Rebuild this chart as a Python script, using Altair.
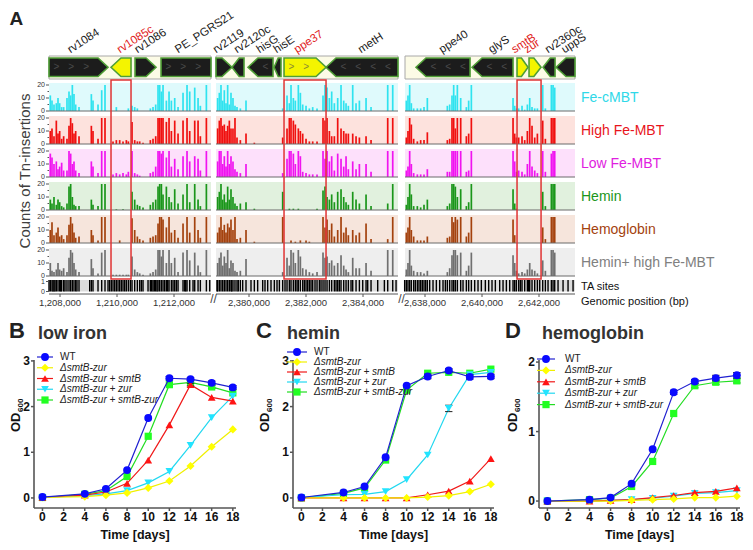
import altair as alt
import pandas as pd

FONT = "Liberation Sans"

# ======================= Panel A data =======================
TRACKS = ["Fe-cMBT", "High Fe-MBT", "Low Fe-MBT", "Hemin", "Hemoglobin", "Hemin+ high Fe-MBT"]
SEG_START = [1207614, 2378842, 2637298]
SEG_END = [1213298, 2385228, 2643263]
X_TICKS = [1208000, 1210000, 1212000, 2380000, 2382000, 2384000, 2638000, 2640000, 2642000]

# insertion sites (bp) and counts per site: [Fe-cMBT, High Fe-MBT, Low Fe-MBT, Hemin, Hemoglobin, Hemin+high]
SITES_1 = [1207660, 1207719, 1207789, 1207871, 1207930, 1207988, 1208058, 1208128, 1208245, 1208316,
           1208374, 1208433, 1208491, 1208550, 1208667, 1209100, 1209158, 1209334, 1209463, 1209579,
           1209860, 1209977, 1210094, 1210211, 1210328, 1210398, 1210527, 1210621, 1210714, 1210796,
           1210913, 1211170, 1211264, 1211358, 1211440, 1211498, 1211557, 1211615, 1211732, 1211826,
           1211908, 1212025, 1212142, 1212317, 1212457, 1212551, 1212727, 1212844, 1212925, 1213136]
COUNTS_1 = [[12, 10, 18, 8, 10, 10], [8, 12, 15, 5, 16, 4], [5, 6, 10, 10, 6, 3], [6, 18, 12, 4, 8, 5],
            [10, 8, 6, 8, 12, 10], [6, 10, 8, 6, 5, 5], [3, 4, 11, 3, 6, 4], [3, 6, 5, 2, 3, 6],
            [10, 4, 5, 5, 6, 3], [15, 14, 20, 18, 14, 14], [12, 20, 18, 20, 20, 20], [20, 16, 10, 10, 15, 18],
            [13, 8, 12, 4, 8, 10], [5, 10, 5, 3, 4, 5], [3, 6, 3, 3, 5, 3], [13, 14, 12, 8, 10, 13],
            [8, 10, 8, 4, 6, 6], [5, 4, 3, 3, 2, 2], [16, 20, 20, 20, 20, 18], [20, 20, 20, 20, 20, 20],
            [0, 2, 2, 0, 0, 1], [3, 3, 3, 0.5, 0, 1], [0, 3, 2, 0, 2, 1], [0, 2, 3, 0.5, 0, 1],
            [0, 3, 2, 0, 0, 1], [2, 2, 4, 0, 0, 1], [4, 17, 20, 14, 19, 15], [3, 3, 3, 8, 10, 5],
            [2, 2, 2, 4, 5, 3], [0, 2, 1, 3, 3, 2], [0, 1, 0, 2, 2, 1], [2, 3, 3, 4, 4, 2],
            [3, 4, 4, 6, 5, 3], [5, 6, 8, 8, 6, 5], [20, 20, 20, 18, 15, 20], [20, 20, 20, 20, 20, 20],
            [15, 20, 18, 20, 20, 15], [20, 20, 20, 12, 18, 20], [8, 17, 15, 18, 12, 10], [15, 20, 20, 10, 20, 20],
            [8, 10, 8, 6, 8, 10], [10, 18, 14, 16, 10, 14], [3, 8, 6, 5, 4, 3], [14, 18, 16, 12, 15, 18],
            [20, 20, 20, 20, 20, 20], [15, 10, 12, 6, 8, 12], [18, 18, 16, 20, 20, 18], [10, 18, 14, 8, 10, 8],
            [4, 6, 5, 3, 4, 3], [20, 20, 20, 20, 20, 20]]

SITES_2 = [2378900, 2378959, 2379017, 2379076, 2379134, 2379193, 2379251, 2379310, 2379368, 2379438,
           2379508, 2379579, 2379696, 2379895, 2380187, 2381182, 2381334, 2381416, 2381474, 2381556,
           2381626, 2381731, 2381802, 2381884, 2382001, 2382118, 2382235, 2382387, 2382597, 2382667,
           2382738, 2382820, 2382901, 2382995, 2383112, 2383229, 2383323, 2383405, 2383486, 2383639,
           2383756, 2383873, 2384107, 2384282, 2384867, 2385043]
COUNTS_2 = [[10, 12, 12, 10, 8, 10], [14, 18, 20, 14, 12, 14], [20, 20, 20, 20, 20, 18], [8, 14, 10, 8, 10, 8],
            [16, 15, 16, 12, 14, 15], [6, 10, 8, 6, 8, 10], [20, 14, 20, 18, 15, 20], [5, 18, 10, 8, 12, 6],
            [14, 12, 16, 16, 18, 12], [10, 12, 12, 10, 10, 10], [4, 20, 6, 5, 20, 4], [3, 5, 4, 3, 3, 3],
            [2, 3, 3, 5, 4, 4], [8, 8, 10, 6, 10, 13], [0, 1, 0, 1, 1, 0], [2, 5, 3, 14, 20, 3],
            [12, 12, 14, 0, 0, 14], [6, 20, 20, 1, 0, 8], [20, 20, 20, 0, 2, 20], [10, 18, 18, 1, 0, 18],
            [8, 15, 10, 0, 1, 10], [20, 12, 20, 1, 0, 20], [14, 10, 16, 0, 2, 15], [5, 8, 4, 0, 0, 6],
            [4, 4, 3, 0, 2, 5], [2, 2, 2, 0, 1, 3], [3, 2, 2, 0, 0, 2], [2, 2, 2, 1, 0, 3],
            [12, 20, 20, 15, 20, 18], [20, 18, 14, 18, 12, 14], [18, 20, 20, 10, 18, 15], [10, 10, 12, 8, 10, 10],
            [15, 6, 16, 12, 15, 12], [6, 6, 5, 6, 5, 8], [10, 20, 18, 14, 10, 10], [20, 12, 14, 16, 20, 16],
            [8, 10, 8, 10, 8, 8], [6, 8, 16, 6, 12, 5], [4, 8, 6, 4, 6, 3], [20, 8, 12, 14, 10, 14],
            [6, 6, 6, 8, 6, 6], [8, 5, 10, 5, 8, 6], [10, 6, 10, 12, 15, 10], [3, 3, 4, 3, 3, 4],
            [20, 20, 20, 5, 3, 20], [20, 20, 20, 20, 20, 20]]

SITES_3 = [2637345, 2637403, 2637462, 2637520, 2637602, 2637731, 2637848, 2637965, 2638082, 2638784,
           2638866, 2638947, 2639006, 2639064, 2639135, 2639252, 2639451, 2639532, 2639626, 2641089,
           2641147, 2641206, 2641287, 2641404, 2641498, 2641592, 2641674, 2641755, 2641849, 2641943,
           2642130, 2642223, 2642434, 2642493, 2642551]
COUNTS_3 = [[8, 5, 5, 4, 8, 5], [12, 10, 8, 10, 12, 10], [20, 20, 20, 20, 20, 20], [6, 15, 10, 12, 10, 8],
            [2, 4, 3, 3, 5, 4], [2, 2, 2, 3, 2, 3], [2, 3, 2, 2, 2, 3], [3, 3, 2, 4, 2, 2],
            [10, 9, 6, 8, 5, 4], [4, 3, 4, 3, 4, 3], [5, 4, 4, 5, 5, 6], [12, 20, 20, 20, 20, 16],
            [20, 20, 20, 20, 16, 20], [12, 12, 20, 18, 20, 20], [20, 20, 20, 10, 18, 16], [10, 20, 20, 16, 20, 18],
            [3, 6, 4, 3, 5, 4], [8, 8, 5, 6, 8, 8], [20, 20, 20, 20, 20, 18], [10, 20, 20, 16, 18, 16],
            [4, 8, 12, 5, 6, 10], [2, 5, 4, 1, 0, 4], [2, 5, 5, 0, 0, 2], [4, 6, 4, 0, 0, 3],
            [1, 3, 2, 0, 0, 2], [5, 10, 10, 0, 0, 5], [10, 20, 20, 0, 0, 10], [3, 14, 8, 0, 0, 5],
            [2, 5, 5, 0, 0, 4], [2, 8, 3, 0, 0, 2], [20, 18, 20, 14, 12, 12], [2, 4, 4, 3, 3, 4],
            [20, 20, 18, 20, 20, 20], [20, 20, 20, 20, 20, 20], [18, 20, 20, 20, 20, 18]]

# TA sites without listed insertions (bp)
TA_EXTRA_1 = [1207614, 1207754, 1207824, 1208023, 1208175, 1208596, 1209041, 1209685, 1209743, 1209802,
              1209919, 1210036, 1210153, 1210270, 1210468, 1210855, 1211089, 1211217, 1211311, 1211404,
              1211673, 1211779, 1211966, 1212083, 1212376, 1212411, 1212668, 1213253]
TA_EXTRA_2 = [2378877, 2379391, 2379625, 2379778, 2380070, 2380304, 2380480, 2380561, 2380655, 2380772,
              2380889, 2380983, 2381065, 2381263, 2381685, 2381942, 2382059, 2382176, 2382316, 2382469,
              2382527, 2383054, 2383170, 2383580, 2383990, 2384165, 2384516, 2384750, 2385160]
TA_EXTRA_3 = [2637286, 2637660, 2637789, 2637906, 2638023, 2638164, 2638281, 2638398, 2638515, 2638632,
              2638714, 2639334, 2639743, 2639860, 2639977, 2640117, 2640234, 2640351, 2640468, 2640620,
              2640738, 2640855, 2640972, 2641346, 2641638, 2642025, 2642317, 2642668, 2642844, 2643019, 2643195]

GENE_NAMES = ["rv1084", "rv1085c", "rv1086", "PE_PGRS21",
              "rv2119", "rv2120c", "hisG", "hisE", "ppe37", "metH",
              "ppe40", "glyS", "smtB", "zur", "rv2360c", "uppS"]
GENE_START = [1207300, 1209790, 1210633, 1211545,
              2378800, 2379403, 2379965, 2380878, 2381229, 2382703,
              2637684, 2639650, 2641229, 2641650, 2642142, 2642598]
GENE_END = [1209685, 1210492, 1211370, 1214000,
            2379403, 2379825, 2380842, 2381123, 2382703, 2385800,
            2639580, 2641089, 2641615, 2642072, 2642563, 2643600]
GENE_STRAND = [1, -1, 1, 1, 1, -1, -1, -1, 1, -1, -1, -1, 1, 1, -1, -1]
HIGHLIGHT = [["rv1085c"], ["ppe37"], ["smtB", "zur"]]

# ======================= Panels B-D data =======================
DAYS = [0, 4, 6, 8, 10, 12, 14, 16, 18]
DAY_TICKS = [0, 2, 4, 6, 8, 10, 12, 14, 16, 18]
STRAINS = ["WT", "ΔsmtB-zur", "ΔsmtB-zur + smtB", "ΔsmtB-zur + zur", "ΔsmtB-zur + smtB-zur"]
LOW_IRON = [[0.02, 0.09, 0.20, 0.61, 1.75, 2.62, 2.60, 2.52, 2.42],
            [0.01, 0.03, 0.06, 0.11, 0.22, 0.37, 0.70, 1.12, 1.50],
            [0.01, 0.06, 0.13, 0.32, 0.83, 1.60, 2.48, 2.20, 2.12],
            [0.01, 0.05, 0.09, 0.16, 0.33, 0.58, 1.15, 1.76, 2.23],
            [0.01, 0.08, 0.16, 0.47, 1.35, 2.48, 2.53, 2.43, 2.30]]
LOW_IRON_ERR = [[0, 0, 0, 0, 0, 0.04, 0.03, 0.04, 0.04],
                [0, 0, 0, 0, 0, 0, 0, 0, 0],
                [0, 0, 0, 0, 0, 0, 0.03, 0, 0],
                [0, 0, 0, 0, 0, 0, 0, 0, 0],
                [0, 0, 0, 0, 0, 0, 0, 0.03, 0]]
HEMIN = [[0.01, 0.12, 0.25, 0.89, 2.46, 2.66, 2.79, 2.65, 2.66],
         [0.0, 0.0, 0.0, 0.0, 0.0, 0.02, 0.05, 0.14, 0.30],
         [0.0, 0.0, 0.0, 0.0, 0.0, 0.07, 0.15, 0.37, 0.86],
         [0.01, 0.07, 0.08, 0.14, 0.40, 0.94, 1.96, 2.70, 2.75],
         [0.0, 0.10, 0.22, 0.83, 2.36, 2.73, 2.75, 2.73, 2.82]]
HEMIN_ERR = [[0, 0, 0, 0, 0, 0.05, 0.04, 0.05, 0.05],
             [0, 0, 0, 0, 0, 0, 0, 0, 0],
             [0, 0, 0, 0, 0, 0, 0, 0, 0],
             [0, 0, 0, 0, 0, 0, 0.07, 0, 0],
             [0, 0, 0, 0, 0, 0, 0, 0, 0]]
HEMOGLOBIN = [[0.0, 0.02, 0.05, 0.25, 0.745, 1.565, 1.72, 1.77, 1.81],
              [0.0, 0.0, 0.0, 0.01, 0.02, 0.03, 0.05, 0.05, 0.07],
              [0.0, 0.0, 0.01, 0.02, 0.05, 0.08, 0.12, 0.14, 0.19],
              [0.0, 0.0, 0.01, 0.02, 0.04, 0.07, 0.11, 0.12, 0.15],
              [0.0, 0.02, 0.04, 0.21, 0.57, 1.26, 1.66, 1.71, 1.73]]
HEMOGLOBIN_ERR = [[0, 0, 0, 0, 0, 0.03, 0.03, 0.04, 0.04],
                  [0, 0, 0, 0, 0, 0, 0, 0, 0],
                  [0, 0, 0, 0, 0, 0, 0, 0, 0],
                  [0, 0, 0, 0, 0, 0, 0, 0, 0],
                  [0, 0, 0, 0, 0, 0, 0.03, 0.03, 0.03]]

# ======================= styles / layout =======================
W, H = 737, 534
TRACK_COLORS = ["#2fe3ef", "#f01010", "#f014f0", "#1a961a", "#a4420e", "#707070"]
TRACK_BG = ["#dffafc", "#fde2dd", "#fde0fb", "#e1f1de", "#f6e5dc", "#eeeeee"]
TRACK_LABEL_COLORS = ["#2fd8e8", "#e8141b", "#e020e0", "#1a961a", "#a4420e", "#808080"]
LINE_COLORS = ["#2020d0", "#f0f000", "#f01818", "#22d8f0", "#22dd22"]
POINT_COLORS = ["#0a0aff", "#ffff00", "#ff1414", "#22e4ff", "#22ff22"]
SHAPES = ["circle", "diamond", "triangle-up", "triangle-down", "square"]
SIZES = [62, 66, 60, 60, 52]

K = 35.088          # bp per pixel
SEG_PX = [41, 208, 397]
UNIT = 1.3          # px per insertion count
BASE_PX = [103 + 33 * i for i in range(6)]

XS = alt.Scale(domain=[0, W * K], nice=False, zero=False)
YS = alt.Scale(domain=[0, H / UNIT], nice=False, zero=False, reverse=True)


def xv(seg, pos):
    return SEG_PX[seg] * K + (pos - SEG_START[seg])


def ux(px):
    return px * K


def uy(px):
    return px / UNIT


def seg_of(pos):
    return 0 if pos < 2.0e6 else (1 if pos < 2.5e6 else 2)


def X(f="x"):
    return alt.X(f"{f}:Q", scale=XS, axis=None)


def Y(f="y"):
    return alt.Y(f"{f}:Q", scale=YS, axis=None)


A_layers = []

# track backgrounds and baselines
bg_rows, base_rows = [], []
for i in range(6):
    for s in range(3):
        bg_rows.append(dict(x=xv(s, SEG_START[s]), x2=xv(s, SEG_END[s]), y=uy(BASE_PX[i] - 28),
                            y2=uy(BASE_PX[i]), c=TRACK_BG[i]))
        base_rows.append(dict(x=xv(s, SEG_START[s]), x2=xv(s, SEG_END[s]), y=uy(BASE_PX[i])))
A_layers.append(alt.Chart(pd.DataFrame(bg_rows)).mark_rect().encode(
    x=X(), x2="x2:Q", y=Y(), y2="y2:Q", color=alt.Color("c:N", scale=None)))

# insertion bars
bar_rows = []
for s, (sites, counts) in enumerate([(SITES_1, COUNTS_1), (SITES_2, COUNTS_2), (SITES_3, COUNTS_3)]):
    for pos, row in zip(sites, counts):
        for i, c in enumerate(row):
            if c > 0:
                bar_rows.append(dict(x=xv(s, pos), y=uy(BASE_PX[i]) - min(c, 21.5),
                                     y2=uy(BASE_PX[i]), c=TRACK_COLORS[i]))
A_layers.append(alt.Chart(pd.DataFrame(bar_rows)).mark_rule(strokeWidth=1.7).encode(
    x=X(), y=Y(), y2="y2:Q", color=alt.Color("c:N", scale=None)))
A_layers.append(alt.Chart(pd.DataFrame(base_rows)).mark_rule(color="#6b6b6b", strokeWidth=1).encode(
    x=X(), x2="x2:Q", y=Y()))

# TA sites
TA_TOP, TA_BOT = 272, 283.5
ta_bg = [dict(x=xv(s, SEG_START[s]), x2=xv(s, SEG_END[s]), y=uy(TA_TOP), y2=uy(TA_BOT)) for s in range(3)]
A_layers.append(alt.Chart(pd.DataFrame(ta_bg)).mark_rect(color="#dcdcdc").encode(
    x=X(), x2="x2:Q", y=Y(), y2="y2:Q"))
ta_rows = []
for s, lst in enumerate([SITES_1 + TA_EXTRA_1, SITES_2 + TA_EXTRA_2, SITES_3 + TA_EXTRA_3]):
    for pos in lst:
        ta_rows.append(dict(x=xv(s, pos), y=uy(TA_TOP), y2=uy(TA_BOT)))
A_layers.append(alt.Chart(pd.DataFrame(ta_rows)).mark_rule(color="#000000", strokeWidth=1.4).encode(
    x=X(), y=Y(), y2="y2:Q"))

# gene map background
gbg = [dict(x=xv(s, SEG_START[s]), x2=xv(s, SEG_END[s]), y=uy(48), y2=uy(71)) for s in range(3)]
A_layers.append(alt.Chart(pd.DataFrame(gbg)).mark_rect(fill="#fcfbe6", stroke="#a8a8a8", strokeWidth=1).encode(
    x=X(), x2="x2:Q", y=Y(), y2="y2:Q"))

# gene arrows
TOP, BOT, MID = uy(50), uy(68.5), uy(59.25)
poly, chev, glab = [], [], []
for name, st, en, strand in zip(GENE_NAMES, GENE_START, GENE_END, GENE_STRAND):
    s = seg_of(st)
    a, b = max(st, SEG_START[s]), min(en, SEG_END[s])
    head = min(350, 0.6 * (en - st))
    yellow = any(name in grp for grp in HIGHLIGHT)
    fill = "#f4f400" if yellow else "#1c1c1c"
    if strand > 0:
        if en <= SEG_END[s]:
            pts = [(a, TOP, BOT), (b - head, TOP, BOT), (b, MID, MID)]
            body = (a, b - head)
        else:
            pts = [(a, TOP, BOT), (b, TOP, BOT)]
            body = (a, b)
    else:
        if st >= SEG_START[s]:
            pts = [(a, MID, MID), (a + head, TOP, BOT), (b, TOP, BOT)]
            body = (a + head, b)
        else:
            pts = [(a, TOP, BOT), (b, TOP, BOT)]
            body = (a, b)
    for (p, y1, y2) in pts:
        poly.append(dict(name=name, x=xv(s, p), y=y1, y2=y2, c=fill))
    p = body[0] + 260
    while p < body[1] - 150:
        chev.append(dict(x=xv(s, p), y=MID, t=">" if strand > 0 else "<",
                         c="#8a8a30" if yellow else "#4a4a4a"))
        p += 520
    glab.append(dict(x=xv(s, (a + b) / 2) - ux(8 if strand > 0 else 1), y=uy(45.5), t=name,
                     c="#e0201a" if yellow else "#1a1a1a"))
A_layers.append(alt.Chart(pd.DataFrame(poly)).mark_area(
    stroke="#4f9e36", strokeWidth=1.6, interpolate="linear", opacity=1).encode(
    x=X(), y=Y(), y2="y2:Q", color=alt.Color("c:N", scale=None), detail="name:N"))
A_layers.append(alt.Chart(pd.DataFrame(chev)).mark_text(
    font=FONT, fontSize=10, baseline="middle", align="center").encode(
    x=X(), y=Y(), text="t:N", color=alt.Color("c:N", scale=None)))
A_layers.append(alt.Chart(pd.DataFrame(glab)).mark_text(
    font=FONT, fontSize=11.5, angle=327, align="left", baseline="alphabetic").encode(
    x=X(), y=Y(), text="t:N", color=alt.Color("c:N", scale=None)))

# red boxes
box_rows = []
for grp in HIGHLIGHT:
    idx = [GENE_NAMES.index(g) for g in grp]
    st = min(GENE_START[j] for j in idx)
    en = max(GENE_END[j] for j in idx)
    s = seg_of(st)
    box_rows.append(dict(x=xv(s, st), x2=xv(s, en), y=uy(72), y2=uy(271)))
A_layers.append(alt.Chart(pd.DataFrame(box_rows)).mark_rect(
    fillOpacity=0, stroke="#e03434", strokeWidth=1.5).encode(x=X(), x2="x2:Q", y=Y(), y2="y2:Q"))

# count axis labels/ticks (left of first segment)
ytl, ytk = [], []
for i in range(6):
    for v in [0, 10, 20]:
        ytl.append(dict(x=ux(37), y=uy(BASE_PX[i]) - v, t=str(v)))
        ytk.append(dict(x=ux(38), x2=ux(41), y=uy(BASE_PX[i]) - v))
    for v in [5, 15]:
        ytk.append(dict(x=ux(39.5), x2=ux(41), y=uy(BASE_PX[i]) - v))
ytl += [dict(x=ux(37), y=uy(TA_TOP + 1.5), t="1"), dict(x=ux(37), y=uy(TA_BOT), t="0")]
ytk += [dict(x=ux(38), x2=ux(41), y=uy(TA_TOP + 1.5)), dict(x=ux(38), x2=ux(41), y=uy(TA_BOT))]
A_layers.append(alt.Chart(pd.DataFrame(ytk)).mark_rule(color="#555555", strokeWidth=1).encode(
    x=X(), x2="x2:Q", y=Y()))
A_layers.append(alt.Chart(pd.DataFrame(ytl)).mark_text(
    font=FONT, fontSize=7, align="right", baseline="middle", color="#333333").encode(
    x=X(), y=Y(), text="t:N"))

# genomic position axis
AXY = 286
ax_rows = [dict(x=xv(s, SEG_START[s]), x2=xv(s, SEG_END[s]), y=uy(AXY)) for s in range(3)]
A_layers.append(alt.Chart(pd.DataFrame(ax_rows)).mark_rule(color="#555555", strokeWidth=1).encode(
    x=X(), x2="x2:Q", y=Y()))
xt_rows = [dict(x=xv(seg_of(t), t), y=uy(AXY), y2=uy(AXY + 3), t=f"{t:,}") for t in X_TICKS]
A_layers.append(alt.Chart(pd.DataFrame(xt_rows)).mark_rule(color="#555555", strokeWidth=1).encode(
    x=X(), y=Y(), y2="y2:Q"))
A_layers.append(alt.Chart(pd.DataFrame(xt_rows)).mark_text(
    font=FONT, fontSize=9.5, align="center", baseline="top", color="#333333", dy=4).encode(
    x=X(), y=Y(), text="t:N"))
brk = []
for s in range(2):
    end_px = SEG_PX[s] + (SEG_END[s] - SEG_START[s]) / K
    brk.append(dict(x=ux((end_px + SEG_PX[s + 1]) / 2), y=uy(AXY + 5), t="//"))
A_layers.append(alt.Chart(pd.DataFrame(brk)).mark_text(
    font=FONT, fontSize=12, align="center", baseline="middle", color="#444444").encode(
    x=X(), y=Y(), text="t:N"))

# right-side labels
rl = [dict(x=ux(573), y=uy(BASE_PX[i] - 13), t=TRACKS[i], c=TRACK_LABEL_COLORS[i]) for i in range(6)]
A_layers.append(alt.Chart(pd.DataFrame(rl)).mark_text(
    font=FONT, fontSize=14, align="left", baseline="middle").encode(
    x=X(), y=Y(), text="t:N", color=alt.Color("c:N", scale=None)))
rl2 = [dict(x=ux(573), y=uy(279), t="TA sites"), dict(x=ux(573), y=uy(293.5), t="Genomic position (bp)")]
A_layers.append(alt.Chart(pd.DataFrame(rl2)).mark_text(
    font=FONT, fontSize=11, align="left", baseline="middle", color="#111111").encode(
    x=X(), y=Y(), text="t:N"))

A_layers.append(alt.Chart(pd.DataFrame([dict(x=ux(1.5), y=uy(17), t="A")])).mark_text(
    font=FONT, fontSize=19, fontWeight="bold", align="left", baseline="alphabetic", color="#222222").encode(
    x=X(), y=Y(), text="t:N"))
A_layers.append(alt.Chart(pd.DataFrame([dict(x=ux(17), y=uy(163), t="Counts of Tn-insertions")])).mark_text(
    font=FONT, fontSize=15, angle=270, align="center", baseline="middle", color="#404040").encode(
    x=X(), y=Y(), text="t:N"))

panel_a = alt.layer(*A_layers)

# ======================= growth panels =======================
ONE = pd.DataFrame({"k": [0]})
PY0, PY1 = 352, 500          # plot top / bottom (px)
XDOM = [-0.8, 18.3]
AX = "#555555"


def growth_panel(vals, errs, ydom, yticks, px0, px1, letter, letter_x, title, title_x,
                 leg_x, leg_y, leg_dy, leg_len, leg_txt, od_x):
    xs = alt.Scale(domain=XDOM, range=[px0, px1], nice=False, zero=False)
    ys = alt.Scale(domain=ydom, range=[PY1, PY0], nice=False, zero=False)
    dpx = (px1 - px0) / (XDOM[1] - XDOM[0])      # px per day
    vpx = (PY1 - PY0) / (ydom[1] - ydom[0])      # px per OD unit

    def ex(f):
        return alt.X(f"{f}:Q", scale=xs, axis=None)

    def ey(f):
        return alt.Y(f"{f}:Q", scale=ys, axis=None)

    layers = []
    # axes
    layers.append(alt.Chart(pd.DataFrame([dict(x=XDOM[0], y=ydom[0], y2=ydom[1])])).mark_rule(
        color=AX, strokeWidth=1.6).encode(x=ex("x"), y=ey("y"), y2="y2:Q"))
    layers.append(alt.Chart(pd.DataFrame([dict(x=XDOM[0], x2=XDOM[1], y=ydom[0])])).mark_rule(
        color=AX, strokeWidth=1.6).encode(x=ex("x"), x2="x2:Q", y=ey("y")))
    yt = pd.DataFrame(dict(v=yticks))
    yt["x"] = XDOM[0] - 3 / dpx
    yt["x2"] = XDOM[0]
    yt["xl"] = XDOM[0] - 4 / dpx
    yt["t"] = yt["v"].astype(str)
    layers.append(alt.Chart(yt).mark_rule(color=AX, strokeWidth=1.5).encode(x=ex("x"), x2="x2:Q", y=ey("v")))
    layers.append(alt.Chart(yt).mark_text(font=FONT, fontSize=12, fontWeight="bold", align="right",
                                          baseline="middle", color="#111111").encode(
        x=ex("xl"), y=ey("v"), text="t:N"))
    xt = pd.DataFrame(dict(d=DAY_TICKS))
    xt["y"] = ydom[0]
    xt["y2"] = ydom[0] - 3 / vpx
    xt["t"] = xt["d"].astype(str)
    layers.append(alt.Chart(xt).mark_rule(color=AX, strokeWidth=1.5).encode(x=ex("d"), y=ey("y"), y2="y2:Q"))
    layers.append(alt.Chart(xt).mark_text(font=FONT, fontSize=12, fontWeight="bold", align="center",
                                          baseline="top", dy=4, color="#111111").encode(
        x=ex("d"), y=ey("y"), text="t:N"))
    layers.append(alt.Chart(ONE).mark_text(font=FONT, fontSize=12.5, fontWeight="bold", align="center",
                                           baseline="middle", color="#111111").encode(
        x=alt.value((px0 + px1) / 2), y=alt.value(PY1 + 27), text=alt.value("Time [days]")))

    # data
    for si in reversed(range(5)):
        d = pd.DataFrame({"day": DAYS, "od": vals[si], "err": errs[si]})
        d["lo"] = d["od"] - d["err"]
        d["hi"] = d["od"] + d["err"]
        d["xl"] = d["day"] - 0.35
        d["xr"] = d["day"] + 0.35
        e = d[d["err"] > 0]
        layers.append(alt.Chart(d).mark_line(color=LINE_COLORS[si], strokeWidth=1.2).encode(
            x=ex("day"), y=ey("od")))
        if len(e):
            layers.append(alt.Chart(e).mark_rule(color="#222222", strokeWidth=1).encode(
                x=ex("day"), y=ey("lo"), y2="hi:Q"))
            for col in ["lo", "hi"]:
                layers.append(alt.Chart(e).mark_rule(color="#222222", strokeWidth=1).encode(
                    x=ex("xl"), x2="xr:Q", y=ey(col)))
        layers.append(alt.Chart(d).mark_point(filled=True, shape=SHAPES[si], size=SIZES[si],
                                              color=POINT_COLORS[si], opacity=1).encode(
            x=ex("day"), y=ey("od")))
    # legend
    for i in range(5):
        ly = leg_y + i * leg_dy
        layers.append(alt.Chart(ONE).mark_rule(color=LINE_COLORS[i], strokeWidth=1.2).encode(
            x=alt.value(leg_x), x2=alt.value(leg_x + leg_len), y=alt.value(ly)))
        layers.append(alt.Chart(ONE).mark_point(filled=True, shape=SHAPES[i], size=SIZES[i],
                                                color=POINT_COLORS[i], opacity=1).encode(
            x=alt.value(leg_x + leg_len / 2), y=alt.value(ly)))
        layers.append(alt.Chart(ONE).mark_text(
            font=FONT, fontSize=10, fontStyle="normal" if i == 0 else "italic",
            align="left", baseline="middle", color="#222222").encode(
            x=alt.value(leg_x + leg_txt), y=alt.value(ly), text=alt.value(STRAINS[i])))
    # letter, title, y title
    layers.append(alt.Chart(ONE).mark_text(font=FONT, fontSize=22, fontWeight="bold", align="left",
                                           baseline="alphabetic", color="#222222").encode(
        x=alt.value(letter_x), y=alt.value(330), text=alt.value(letter)))
    layers.append(alt.Chart(ONE).mark_text(font=FONT, fontSize=18, fontWeight="bold", align="left",
                                           baseline="alphabetic", color="#333333").encode(
        x=alt.value(title_x), y=alt.value(331), text=alt.value(title)))
    layers.append(alt.Chart(ONE).mark_text(font=FONT, fontSize=13, fontWeight="bold", align="left",
                                           baseline="alphabetic", angle=270, color="#111111").encode(
        x=alt.value(od_x), y=alt.value(PY0 + 72), text=alt.value("OD")))
    layers.append(alt.Chart(ONE).mark_text(font=FONT, fontSize=8, fontWeight="bold", align="left",
                                           baseline="alphabetic", angle=270, color="#111111").encode(
        x=alt.value(od_x + 3), y=alt.value(PY0 + 52), text=alt.value("600")))
    return alt.layer(*layers)


panel_b = growth_panel(LOW_IRON, LOW_IRON_ERR, [-0.22, 3.02], [0, 1, 2, 3], 26, 228,
                       "B", 1, "low iron", 30, 29, 349, 10.75, 16, 23, 11.5)
panel_c = growth_panel(HEMIN, HEMIN_ERR, [-0.22, 3.02], [0, 1, 2, 3], 285, 486,
                       "C", 248, "hemin", 279, 279, 344, 10.0, 20, 27, 261)
panel_d = growth_panel(HEMOGLOBIN, HEMOGLOBIN_ERR, [-0.1, 2.03], [0, 1, 2], 531, 732,
                       "D", 497, "hemoglobin", 534, 529, 351, 11.4, 18, 28, 509)

chart = alt.layer(panel_a, panel_b, panel_c, panel_d).resolve_scale(
    x="independent", y="independent").properties(
    width=W, height=H, padding=0, background="white",
    autosize=alt.AutoSizeParams(type="none")).configure_view(stroke=None)

chart.save("out.html", embed_options={"renderer": "svg", "actions": False})
